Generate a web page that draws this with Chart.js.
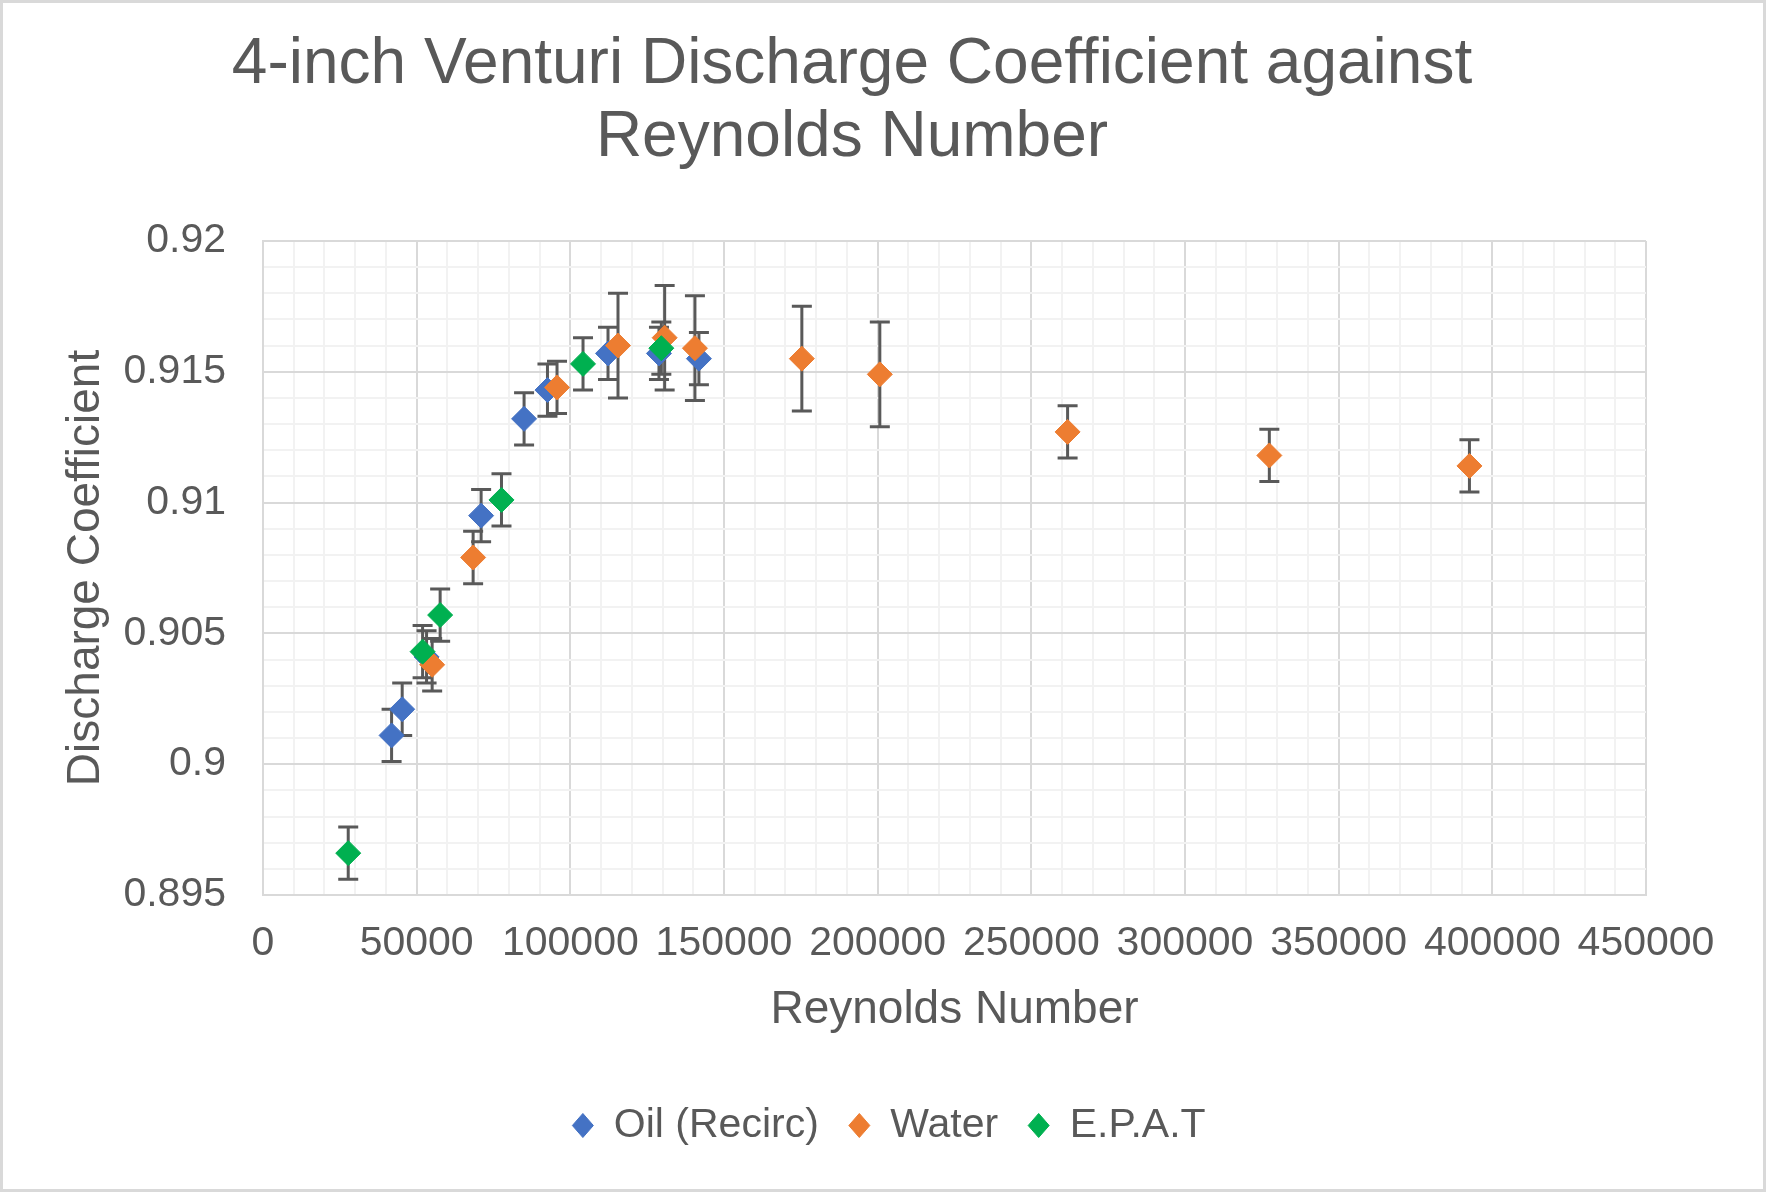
<!DOCTYPE html>
<html>
<head>
<meta charset="utf-8">
<title>4-inch Venturi Discharge Coefficient</title>
<script src="https://cdn.jsdelivr.net/npm/chart.js@4.4.1/dist/chart.umd.min.js"></script>
<style>
  html, body { margin: 0; padding: 0; background: #fff; }
  canvas { display: block; }
</style>
</head>
<body>
<canvas id="cdChart" width="1766" height="1192"></canvas>
<script>
// Reynolds number / discharge coefficient readings, +/- error per point
const oilRe  = [41840, 45290, 53220, 70970, 84950, 92560, 112260, 128840, 141840];
const oilCd  = [0.9011, 0.9021, 0.9041, 0.9095, 0.9132, 0.9143, 0.9157, 0.9157, 0.9155];
const oilErr = [0.001, 0.001, 0.001, 0.001, 0.001, 0.001, 0.001, 0.001, 0.001];

const waterRe  = [55040, 68370, 95670, 115510, 130690, 140540, 175330, 200700, 261800, 327440, 392550];
const waterCd  = [0.9038, 0.9079, 0.9144, 0.9160, 0.9163, 0.9159, 0.9155, 0.9149, 0.9127, 0.9118, 0.9114];
const waterErr = [0.001, 0.001, 0.001, 0.002, 0.002, 0.002, 0.002, 0.002, 0.001, 0.001, 0.001];

const epatRe  = [27730, 51930, 57640, 77600, 104130, 129610];
const epatCd  = [0.8966, 0.9043, 0.9057, 0.9101, 0.9153, 0.9159];
const epatErr = [0.001, 0.001, 0.001, 0.001, 0.001, 0.001];

const seriesNames = ['Oil (Recirc)', 'Water', 'E.P.A.T'];
const seriesColors = ['#4472C4', '#ED7D31', '#00B050'];

const titleLines = ['4-inch Venturi Discharge Coefficient against', 'Reynolds Number'];
const xTitle = 'Reynolds Number';
const yTitle = 'Discharge Coefficient';

const FONT = "'Liberation Sans', Arial, sans-serif";
const TEXT = '#595959';

function toPoints(xs, ys, errs) {
    return xs.map((x, i) => ({ x: x, y: ys[i], err: errs[i] }));
}

// later series are painted over earlier ones, like the spreadsheet does
function makeSet(label, color, pts, order) {
    return {
        label: label,
        data: pts,
        order: order,
        pointStyle: 'rectRot',
        pointRadius: 12.5,
        pointHoverRadius: 12.5,
        backgroundColor: color,
        borderColor: color,
        borderWidth: 1,
        showLine: false
    };
}

const isMajorX = v => Math.abs(v / 50000 - Math.round(v / 50000)) < 1e-6;
const isMajorY = v => Math.abs(v / 0.005 - Math.round(v / 0.005)) < 1e-6;

// vertical error bars with caps, drawn under the markers
const errorBars = {
    id: 'errorBars',
    beforeDatasetsDraw(chart) {
        const { ctx, scales: { x, y } } = chart;
        ctx.save();
        ctx.strokeStyle = '#595959';
        ctx.lineWidth = 3;
        chart.data.datasets.forEach((ds, i) => {
            if (!chart.isDatasetVisible(i)) return;
            ds.data.forEach(p => {
                const px = x.getPixelForValue(p.x);
                const top = y.getPixelForValue(p.y + p.err);
                const bot = y.getPixelForValue(p.y - p.err);
                ctx.beginPath();
                ctx.moveTo(px, top); ctx.lineTo(px, bot);
                ctx.moveTo(px - 10, top); ctx.lineTo(px + 10, top);
                ctx.moveTo(px - 10, bot); ctx.lineTo(px + 10, bot);
                ctx.stroke();
            });
        });
        ctx.restore();
    }
};

// white background + light frame round the whole chart, legend nudged right
const frame = {
    id: 'frame',
    afterLayout(chart) {
        chart.legend.left += 37;
        chart.legend.right += 37;
    },
    beforeDraw(chart) {
        const { ctx, width, height } = chart;
        ctx.save();
        ctx.fillStyle = '#fff';
        ctx.fillRect(0, 0, width, height);
        ctx.restore();
    },
    afterDraw(chart) {
        const { ctx, width, height } = chart;
        ctx.save();
        ctx.strokeStyle = '#d9d9d9';
        ctx.lineWidth = 3;
        ctx.strokeRect(1.5, 1.5, width - 3, height - 3);
        ctx.restore();
    }
};

const ctx = document.getElementById('cdChart').getContext('2d');
new Chart(ctx, {
    type: 'scatter',
    data: {
        datasets: [
            makeSet(seriesNames[0], seriesColors[0], toPoints(oilRe, oilCd, oilErr), 3),
            makeSet(seriesNames[1], seriesColors[1], toPoints(waterRe, waterCd, waterErr), 2),
            makeSet(seriesNames[2], seriesColors[2], toPoints(epatRe, epatCd, epatErr), 1)
        ]
    },
    options: {
        responsive: false,
        animation: false,
        devicePixelRatio: 1,
        layout: { padding: { top: 0, left: 58, right: 120, bottom: 36 } },
        plugins: {
            title: {
                display: true,
                text: titleLines,
                color: TEXT,
                font: { family: FONT, size: 64, weight: 'normal', lineHeight: 1.14 },
                padding: { top: 29, bottom: 66 }
            },
            legend: {
                position: 'bottom',
                labels: {
                    usePointStyle: true,
                    pointStyleWidth: 21,
                    boxHeight: 17,
                    padding: 30,
                    color: TEXT,
                    font: { family: FONT, size: 41 },
                    sort: (a, b) => a.datasetIndex - b.datasetIndex
                }
            },
            tooltip: { enabled: false }
        },
        scales: {
            x: {
                type: 'linear',
                min: 0,
                max: 450000,
                afterFit: s => { s.height = 180; },
                ticks: {
                    stepSize: 10000,
                    autoSkip: false,
                    maxRotation: 0,
                    minRotation: 0,
                    padding: 24,
                    color: TEXT,
                    font: { family: FONT, size: 41 },
                    callback: v => isMajorX(v) ? String(Math.round(v)) : ''
                },
                grid: {
                    drawTicks: false,
                    lineWidth: 2,
                    color: c => isMajorX(c.tick.value) ? '#d9d9d9' : '#f2f2f2'
                },
                border: { color: '#d9d9d9', width: 2 },
                title: {
                    display: true,
                    text: xTitle,
                    color: TEXT,
                    font: { family: FONT, size: 46 },
                    padding: { top: 10, bottom: 37 }
                }
            },
            y: {
                min: 0.895,
                max: 0.92,
                afterFit: s => { s.width = 205; },
                ticks: {
                    stepSize: 0.001,
                    autoSkip: false,
                    padding: 37,
                    color: TEXT,
                    font: { family: FONT, size: 41 },
                    callback: v => isMajorY(v) ? String(parseFloat(v.toFixed(3))) : ''
                },
                grid: {
                    drawTicks: false,
                    lineWidth: 2,
                    color: c => isMajorY(c.tick.value) ? '#d9d9d9' : '#f2f2f2'
                },
                border: { color: '#d9d9d9', width: 2 },
                title: {
                    display: true,
                    text: yTitle,
                    color: TEXT,
                    font: { family: FONT, size: 46 },
                    padding: { top: 1, bottom: 9 }
                }
            }
        }
    },
    plugins: [errorBars, frame]
});
</script>
</body>
</html>
